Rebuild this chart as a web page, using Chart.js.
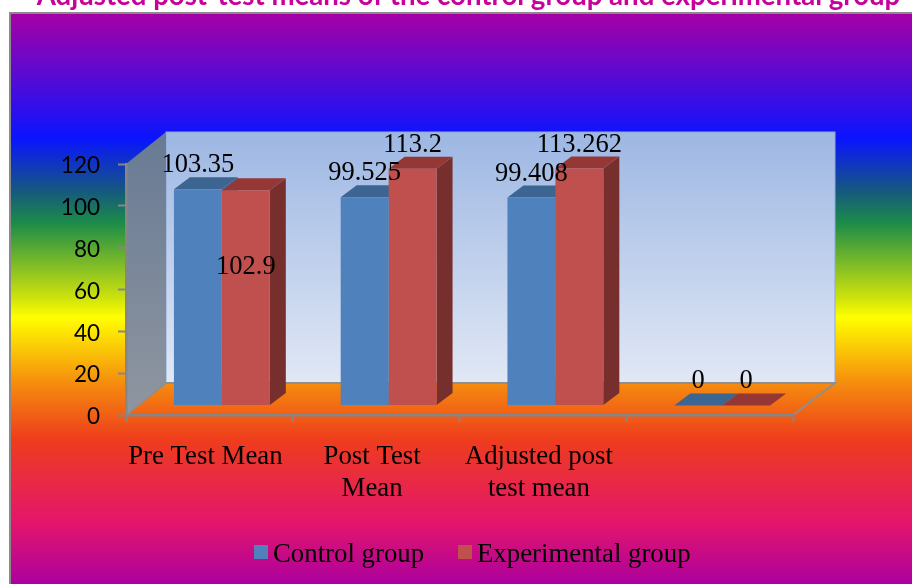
<!DOCTYPE html>
<html>
<head>
<meta charset="utf-8">
<title>Adjusted post-test means</title>
<script src="https://cdn.jsdelivr.net/npm/chart.js@4"></script>
<style>
  html, body { margin: 0; padding: 0; background: #fff; overflow: hidden; }
  canvas { display: block; }
</style>
</head>
<body>
<canvas id="chart" width="912" height="584"></canvas>
<script>
const titleText = 'Adjusted post-test means of the control group and experimental group'
const categories = [['Pre Test Mean'], ['Post Test', 'Mean'], ['Adjusted post', 'test mean'], '']
const controlGroup = [103.35, 99.525, 99.408, 0]
const experimentalGroup = [102.9, 113.2, 113.262, 0]
const valueLabels = [
    ['103.35', '99.525', '99.408', '0'],
    ['102.9', '113.2', '113.262', '0']
]
const yTicks = [0, 20, 40, 60, 80, 100, 120]

const SERIF = '"Liberation Serif", serif'
const SANS = 'Lato, sans-serif'

// 3d look: the bars sit a bit behind the front plane of the axes
const BAR_DX = 12.5, BAR_DY = -9.5
const FACE_DX = 16, FACE_DY = -12
const WALL_DX = 40, WALL_DY = -32

function poly(ctx, pts, fill){
    ctx.beginPath()
    pts.forEach((p, i) => i ? ctx.lineTo(p[0], p[1]) : ctx.moveTo(p[0], p[1]))
    ctx.closePath()
    ctx.fillStyle = fill
    ctx.fill()
}

const backdrop = {
    id: 'backdrop',
    beforeDraw(chart){
        const ctx = chart.ctx
        const {left, right, top, bottom} = chart.chartArea
        ctx.save()
        ctx.fillStyle = '#fff'
        ctx.fillRect(0, 0, 912, 584)

        // slide background
        const g = ctx.createLinearGradient(0, 14, 0, 584)
        g.addColorStop(0, '#a600a6')
        g.addColorStop(0.218, '#0a14ff')
        g.addColorStop(0.31, '#15587f')
        g.addColorStop(0.367, '#1c8c48')
        g.addColorStop(0.5, '#d0e40c')
        g.addColorStop(0.532, '#ffff00')
        g.addColorStop(0.65, '#f58a0e')
        g.addColorStop(0.746, '#ee3d1c')
        g.addColorStop(0.89, '#e4166a')
        g.addColorStop(1, '#ac009e')
        ctx.fillStyle = g
        ctx.fillRect(10, 13, 902, 571)
        ctx.fillStyle = '#8a8a8a'
        ctx.fillRect(9, 12, 903, 2)
        ctx.fillRect(9, 12, 2, 572)

        // title, cut by the top of the picture
        ctx.font = 'bold 27.6px ' + SANS
        ctx.fillStyle = '#c8009c'
        ctx.textAlign = 'center'
        ctx.textBaseline = 'alphabetic'
        ctx.fillText(titleText, 468.5, 5)

        // back wall
        const backR = right + 42
        const wall = ctx.createLinearGradient(0, top + WALL_DY, 0, bottom + WALL_DY)
        wall.addColorStop(0, '#9db7e3')
        wall.addColorStop(1, '#e1e8f5')
        poly(ctx, [[left + WALL_DX, top + WALL_DY], [backR, top + WALL_DY], [backR, bottom + WALL_DY], [left + WALL_DX, bottom + WALL_DY]], wall)
        ctx.strokeStyle = '#8ea9d8'
        ctx.lineWidth = 1
        ctx.strokeRect(left + WALL_DX, top + WALL_DY, backR - left - WALL_DX, bottom - top)

        // side wall
        const side = ctx.createLinearGradient(0, top + WALL_DY, 0, bottom)
        side.addColorStop(0, '#687a94')
        side.addColorStop(1, '#8f96a0')
        poly(ctx, [[left, top], [left + WALL_DX, top + WALL_DY], [left + WALL_DX, bottom + WALL_DY], [left, bottom]], side)

        // floor edges
        ctx.strokeStyle = '#8f8f8f'
        ctx.lineWidth = 2
        ctx.beginPath()
        ctx.moveTo(left, bottom)
        ctx.lineTo(left + WALL_DX, bottom + WALL_DY)
        ctx.lineTo(backR, bottom + WALL_DY)
        ctx.lineTo(right, bottom)
        ctx.stroke()
        ctx.restore()
    },
    beforeDatasetsDraw(chart){
        const ctx = chart.ctx
        ctx.save()
        ctx.translate(BAR_DX, BAR_DY)
        const faces = [['#3d6592', '#3d6592'], ['#953735', '#772f2d']]
        chart.data.datasets.forEach((ds, i) => {
            chart.getDatasetMeta(i).data.forEach(bar => {
                const l = bar.x - bar.width / 2, r = bar.x + bar.width / 2
                poly(ctx, [[r, bar.y], [r + FACE_DX, bar.y + FACE_DY], [r + FACE_DX, bar.base + FACE_DY], [r, bar.base]], faces[i][1])
                poly(ctx, [[l, bar.y], [r, bar.y], [r + FACE_DX, bar.y + FACE_DY], [l + FACE_DX, bar.y + FACE_DY]], faces[i][0])
            })
        })
    },
    afterDatasetsDraw(chart){
        chart.ctx.restore()
    },
    afterDraw(chart){
        const ctx = chart.ctx
        ctx.save()
        ctx.fillStyle = '#000'
        ctx.textAlign = 'center'
        ctx.textBaseline = 'middle'
        ctx.font = '26.5px ' + SERIF
        chart.data.datasets.forEach((ds, i) => {
            chart.getDatasetMeta(i).data.forEach((bar, j) => {
                // 102.9 sits inside its bar in the original
                const off = (i === 1 && j === 0) ? 77 : -24
                ctx.fillText(valueLabels[i][j], bar.x + BAR_DX, bar.y + BAR_DY + off)
            })
        })

        // legend
        ctx.textAlign = 'left'
        ctx.font = '26.8px ' + SERIF
        let x = 254
        chart.data.datasets.forEach(ds => {
            ctx.fillStyle = ds.backgroundColor
            ctx.fillRect(x, 545, 14, 14)
            ctx.fillStyle = '#000'
            ctx.fillText(ds.label, x + 19, 555)
            x += 204
        })
        ctx.restore()
    }
}

new Chart(document.getElementById('chart'), {
    type: 'bar',
    data: {
        labels: categories,
        datasets: [
            {label: 'Control group', data: controlGroup, backgroundColor: '#4f81bd'},
            {label: 'Experimental group', data: experimentalGroup, backgroundColor: '#c0504d'}
        ]
    },
    options: {
        responsive: false,
        animation: false,
        layout: {padding: {left: 0, right: 119, top: 164, bottom: 0}},
        datasets: {bar: {categoryPercentage: 0.575, barPercentage: 1}},
        plugins: {legend: {display: false}, title: {display: false}, tooltip: {enabled: false}},
        scales: {
            x: {
                afterFit(scale){ scale.height = 169 },
                grid: {drawOnChartArea: false, color: '#868686', tickLength: 7, tickWidth: 2},
                border: {color: '#868686', width: 2.5},
                ticks: {
                    color: '#000', font: {family: SERIF, size: 26.8},
                    padding: 19, labelOffset: -4, maxRotation: 0, autoSkip: false
                }
            },
            y: {
                min: 0,
                max: 120,
                afterFit(scale){ scale.width = 126 },
                afterBuildTicks(scale){ scale.ticks = yTicks.map(v => ({value: v})) },
                grid: {drawOnChartArea: false, color: '#868686', tickLength: 8, tickWidth: 2},
                border: {color: '#868686', width: 2.5},
                ticks: {color: '#000', font: {family: SANS, size: 22.5}, padding: 18, labelOffset: 2}
            }
        }
    },
    plugins: [backdrop]
})
</script>
</body>
</html>
